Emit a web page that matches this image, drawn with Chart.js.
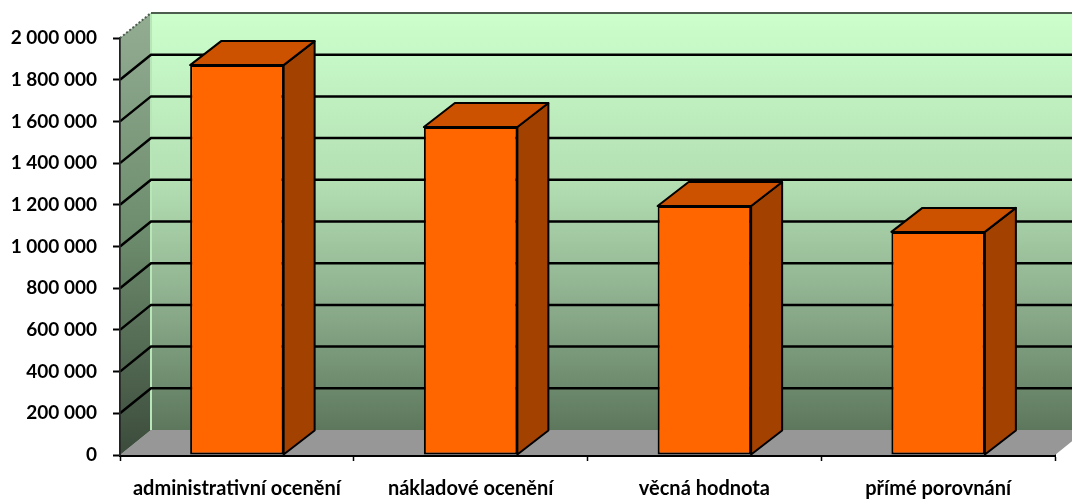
<!DOCTYPE html>
<html>
<head>
<meta charset="utf-8">
<script src="https://cdn.jsdelivr.net/npm/chart.js@4.4.1/dist/chart.umd.min.js"></script>
<style>
  html, body { margin: 0; padding: 0; background: #fff; }
  #wrap { width: 1072px; height: 501px; }
</style>
</head>
<body>
<div id="wrap"><canvas id="chart"></canvas></div>
<script>
const categories = ['administrativní ocenění', 'nákladové ocenění', 'věcná hodnota', 'přímé porovnání'];
const values = [1870000, 1573000, 1194000, 1070000];
const yMax = 2000000;
const yStep = 200000;

// depth offsets of the pseudo-3D box (walls) and of the columns
const wallDepth = { dx: 31, dy: -25 };
const barDepth = { dx: 31, dy: -24 };

function formatThousands(v) {
  return String(v).replace(/\B(?=(\d{3})+(?!\d))/g, ' ');
}

function poly(ctx, pts) {
  ctx.beginPath();
  ctx.moveTo(pts[0][0], pts[0][1]);
  for (let i = 1; i < pts.length; i++) ctx.lineTo(pts[i][0], pts[i][1]);
  ctx.closePath();
}

const box3d = {
  id: 'box3d',
  beforeDatasetsDraw(chart) {
    const { ctx, chartArea: a, scales: { y } } = chart;
    const { dx, dy } = wallDepth;
    const top = y.getPixelForValue(yMax);
    const bottom = y.getPixelForValue(0);
    ctx.save();

    // back wall
    let g = ctx.createLinearGradient(0, top + dy, 0, bottom + dy);
    g.addColorStop(0, '#ccffcc');
    g.addColorStop(0.4, '#b4e0b4');
    g.addColorStop(0.7, '#8cad8c');
    g.addColorStop(1, '#5d775d');
    ctx.fillStyle = g;
    ctx.fillRect(a.left + dx, top + dy, a.right - a.left + 40, bottom - top);

    // floor
    ctx.fillStyle = '#979797';
    poly(ctx, [[a.left, bottom], [a.right, bottom], [a.right + dx, bottom + dy], [a.left + dx, bottom + dy]]);
    ctx.fill();

    // left wall
    g = ctx.createLinearGradient(0, top + dy, 0, bottom);
    g.addColorStop(0, '#93ad93');
    g.addColorStop(0.5, '#6d8c6d');
    g.addColorStop(1, '#3c4b3c');
    ctx.fillStyle = g;
    poly(ctx, [[a.left, top], [a.left + dx, top + dy], [a.left + dx, bottom + dy], [a.left, bottom]]);
    ctx.fill();

    // light edge where the walls meet
    ctx.strokeStyle = '#b8e6b8';
    ctx.lineWidth = 2;
    ctx.beginPath();
    ctx.moveTo(a.left + dx, top + dy);
    ctx.lineTo(a.left + dx, bottom + dy);
    ctx.stroke();

    // top edge of the back wall
    ctx.strokeStyle = '#4e5e4e';
    ctx.lineWidth = 2;
    ctx.beginPath();
    ctx.moveTo(a.left + dx, top + dy);
    ctx.lineTo(a.right + dx + 20, top + dy);
    ctx.stroke();

    // top edge of the left wall
    ctx.setLineDash([2, 2]);
    ctx.beginPath();
    ctx.moveTo(a.left, top);
    ctx.lineTo(a.left + dx, top + dy);
    ctx.stroke();
    ctx.setLineDash([]);

    // gridlines on both walls
    ctx.strokeStyle = '#000';
    ctx.lineWidth = 2.5;
    for (let v = yStep; v < yMax; v += yStep) {
      const py = y.getPixelForValue(v);
      ctx.beginPath();
      ctx.moveTo(a.left, py);
      ctx.lineTo(a.left + dx, py + dy);
      ctx.lineTo(a.right + dx + 20, py + dy);
      ctx.stroke();
    }

    // front edge of the left wall
    ctx.strokeStyle = '#222';
    ctx.lineWidth = 1.5;
    ctx.beginPath();
    ctx.moveTo(a.left, top);
    ctx.lineTo(a.left, bottom);
    ctx.stroke();
    ctx.restore();
  },
  afterDatasetsDraw(chart) {
    const { ctx } = chart;
    const { dx, dy } = barDepth;
    ctx.save();
    ctx.lineWidth = 2;
    ctx.lineJoin = 'round';
    ctx.strokeStyle = '#000';
    chart.getDatasetMeta(0).data.forEach(bar => {
      const { x, y, width, base } = bar.getProps(['x', 'y', 'width', 'base'], true);
      const l = x - width / 2;
      const r = x + width / 2;
      // side face
      poly(ctx, [[r, y], [r + dx, y + dy], [r + dx, base + dy], [r, base]]);
      ctx.fillStyle = '#a34100';
      ctx.fill();
      ctx.stroke();
      // top face
      poly(ctx, [[l, y], [r, y], [r + dx, y + dy], [l + dx, y + dy]]);
      ctx.fillStyle = '#cc5200';
      ctx.fill();
      ctx.stroke();
    });
    ctx.restore();
  }
};

new Chart(document.getElementById('chart'), {
  type: 'bar',
  data: {
    labels: categories,
    datasets: [{
      data: values,
      backgroundColor: '#ff6600',
      borderColor: '#000',
      borderWidth: 2,
      borderSkipped: false,
      categoryPercentage: 1,
      barPercentage: 0.4
    }]
  },
  options: {
    responsive: true,
    maintainAspectRatio: false,
    animation: false,
    layout: { padding: { top: 38, right: 17, left: 0, bottom: 0 } },
    plugins: { legend: { display: false }, tooltip: { enabled: false } },
    scales: {
      x: {
        z: 1,
        grid: { offset: true, drawOnChartArea: false, tickLength: 6, tickColor: '#000', tickWidth: 1.5 },
        border: { display: true, color: '#000', width: 3 },
        ticks: {
          color: '#000',
          padding: 16,
          maxRotation: 0,
          font: { family: 'Lato', weight: 'bold', size: 20 }
        },
        afterFit(scale) { scale.height = 46; }
      },
      y: {
        z: 1,
        min: 0,
        max: yMax,
        grid: { drawOnChartArea: false, tickLength: 7, tickColor: '#000', tickWidth: 2 },
        border: { display: true, color: '#222', width: 1.5 },
        ticks: {
          stepSize: yStep,
          color: '#000',
          padding: 16,
          font: { family: 'Lato', weight: 'bold', size: 19 },
          callback: v => formatThousands(v)
        },
        afterFit(scale) { scale.width = 120; }
      }
    }
  },
  plugins: [box3d]
});
</script>
</body>
</html>
